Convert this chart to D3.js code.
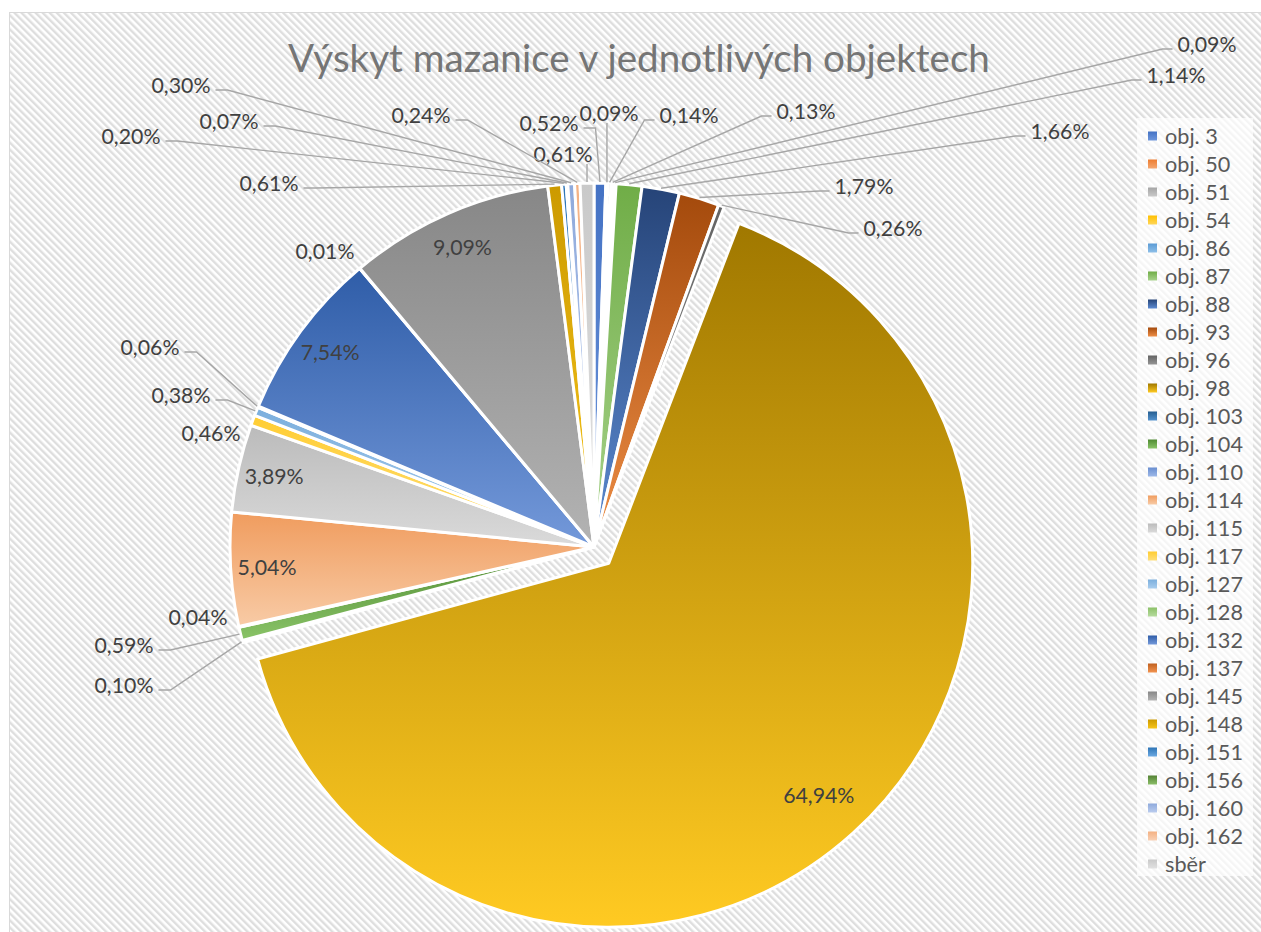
<!DOCTYPE html>
<html>
<head>
<meta charset="utf-8">
<script src="https://cdn.jsdelivr.net/npm/d3@7"></script>
<style>
  body { margin: 0; background: #fff; }
  svg { display: block; }
</style>
</head>
<body>
<svg id="chart" width="1261" height="932"></svg>
<script>
// ---- data ----
const categories = ["obj. 3","obj. 50","obj. 51","obj. 54","obj. 86","obj. 87","obj. 88","obj. 93","obj. 96",
  "obj. 98","obj. 103","obj. 104","obj. 110","obj. 114","obj. 115","obj. 117","obj. 127","obj. 128",
  "obj. 132","obj. 137","obj. 145","obj. 148","obj. 151","obj. 156","obj. 160","obj. 162","sběr"];
// share of daub (mazanice) per feature, in percent
const shares = [0.52,0.09,0.14,0.13,0.09,1.14,1.66,1.79,0.26,
  64.94,0.10,0.59,0.04,5.04,3.89,0.46,0.38,0.06,
  7.54,0.01,9.09,0.61,0.20,0.07,0.30,0.24,0.61];
const explodedCategory = "obj. 98";

// ---- style ----
const topColors = ["#4472C4","#ED7D31","#A5A5A5","#FFC000","#5B9BD5","#70AD47","#264478","#A44A0C","#636363",
  "#A07800","#255E91","#4F8A32","#698ED0","#F09C5E","#BBBBBB","#FFCD33","#7CAFDD","#8CC168",
  "#2F5DA8","#C0601F","#878787","#CC9A00","#2E75B6","#548235","#8FAADC","#F4B183","#C9C9C9"];
const bottomColors = ["#6F97DC","#F5A770","#C9C9C9","#FFD659","#8EBFE8","#A8D38C","#5D8BD2","#EE8E46","#959595",
  "#FFCA22","#5593CE","#8AC468","#9DB8E8","#F8CBA6","#DADADA","#FFDF7A","#A9CDEE","#B6DB9E",
  "#7499DA","#F2934F","#B3B3B3","#F7C51A","#6CA9E2","#8BBE68","#BACCEE","#F9D1B5","#E1E1E1"];

// label spots for data labels placed outside the pie: [x, y, leader line]; null = label inside the slice
const labelSpots = [[549,123,true],[609,113,true],[689,115,true],[806,111,true],[1207,44,true],[1176,75,true],
  [1060,131,true],[864,186,true],[893,228,true],
  null,[124,685,true],[124,645,true],[198,617,false],null,null,[211,433,false],[181,395,true],[150,347,true],
  null,[325,251,false],null,[269,183,true],[131,136,true],[229,121,true],[181,85,true],[421,115,true],[563,154,true]];

const FONT = "Lato, 'Open Sans', sans-serif";
const W = 1261, H = 932;
const cx = 594, cy = 547, R = 364, explode = 22;

const svg = d3.select("#chart");
const defs = svg.append("defs");

// fit a font size so that a sample string gets a given width
function fitSize(sample, target) {
  const t = svg.append("text").attr("font-family", FONT).attr("font-size", 100).text(sample);
  const w = t.node().getComputedTextLength();
  t.remove();
  return 100 * target / w;
}
const titleSize = fitSize("Výskyt mazanice v jednotlivých objektech", 702);
const labelSize = fitSize("0,30%", 59);
const legendSize = fitSize("obj. 114", 78);

// diagonal hatch background
const pat = defs.append("pattern").attr("id", "hatch").attr("patternUnits", "userSpaceOnUse")
  .attr("width", 5).attr("height", 5).attr("patternTransform", "rotate(-45)");
pat.append("rect").attr("width", 5).attr("height", 5).attr("fill", "#ffffff");
pat.append("rect").attr("width", 2.4).attr("height", 5).attr("fill", "#dedede");

// per-slice vertical gradients
categories.forEach((c, i) => {
  const g = defs.append("linearGradient").attr("id", "grad" + i)
    .attr("x1", 0).attr("y1", 0).attr("x2", 0).attr("y2", 1);
  g.append("stop").attr("offset", 0).attr("stop-color", topColors[i]);
  g.append("stop").attr("offset", 1).attr("stop-color", bottomColors[i]);
});

svg.append("rect").attr("x", 9.5).attr("y", 12.5).attr("width", W).attr("height", H)
  .attr("fill", "url(#hatch)").attr("stroke", "#d9d9d9").attr("stroke-width", 1);

// title
svg.append("text").attr("x", 639).attr("y", 72).attr("text-anchor", "middle")
  .attr("font-family", FONT).attr("font-size", titleSize).attr("fill", "#757575")
  .text("Výskyt mazanice v jednotlivých objektech");

// pie
const data = categories.map((name, i) => ({ name, share: shares[i], i }));
const arcs = d3.pie().sort(null).value(d => d.share)(data);
const arc = d3.arc().innerRadius(0).outerRadius(R);
const midAngle = a => (a.startAngle + a.endAngle) / 2;
function shift(a) {
  if (a.data.name !== explodedCategory) return [0, 0];
  const m = midAngle(a);
  return [explode * Math.sin(m), -explode * Math.cos(m)];
}
const polar = (ang, r) => [r * Math.sin(ang), -r * Math.cos(ang)];

const pieG = svg.append("g").attr("transform", `translate(${cx},${cy})`);
pieG.selectAll("path.slice").data(arcs).join("path")
  .attr("class", "slice")
  .attr("transform", d => `translate(${shift(d)[0]},${shift(d)[1]})`)
  .attr("d", arc)
  .attr("fill", d => `url(#grad${d.data.i})`)
  .attr("stroke", "#ffffff").attr("stroke-width", 3).attr("stroke-linejoin", "round");

const fmt = v => d3.format(".2f")(v).replace(".", ",") + "%";
const labelG = svg.append("g");
const leaderG = svg.append("g");

arcs.forEach(a => {
  const spot = labelSpots[a.data.i];
  const text = fmt(a.data.share);
  if (!spot) {
    const [sx, sy] = shift(a);
    const k = a.data.name === explodedCategory ? 0.86 : 0.9;
    const [px, py] = polar(midAngle(a), k * R);
    labelG.append("text").attr("x", cx + sx + px).attr("y", cy + sy + py + 0.36 * labelSize)
      .attr("text-anchor", "middle").attr("font-family", FONT).attr("font-size", labelSize)
      .attr("fill", "#404040").text(text);
    return;
  }
  const [lx, ly, leader] = spot;
  const t = labelG.append("text").attr("x", lx).attr("y", ly + 0.36 * labelSize)
    .attr("text-anchor", "middle").attr("font-family", FONT).attr("font-size", labelSize)
    .attr("fill", "#404040").text(text);
  if (!leader) return;
  const w = t.node().getComputedTextLength();
  const x0 = lx - w / 2, x1 = lx + w / 2;
  const [ax0, ay0] = polar(midAngle(a), R + 1);
  const ax = cx + ax0, ay = cy + ay0;
  let pts;
  if (ax >= x0 && ax <= x1) {
    pts = [[ax, ly + 10], [ax, ay]];
  } else if (ax > x1) {
    pts = [[x1 + 5, ly + 5], [x1 + 17, ly + 5], [ax, ay]];
  } else {
    pts = [[x0 - 5, ly + 5], [x0 - 15, ly + 5], [ax, ay]];
  }
  leaderG.append("polyline").attr("points", pts.map(p => p.join(",")).join(" "))
    .attr("fill", "none").attr("stroke", "#a6a6a6").attr("stroke-width", 1.4);
});

// legend
const legendY = d3.scalePoint().domain(categories).range([136, 864]);
svg.append("rect").attr("x", 1137).attr("y", 118).attr("width", 116).attr("height", 758)
  .attr("fill", "#ffffff").attr("fill-opacity", 0.7);
const legend = svg.append("g").selectAll("g").data(categories).join("g")
  .attr("transform", d => `translate(1148,${legendY(d)})`);
legend.append("rect").attr("x", 0).attr("y", -4.5).attr("width", 9).attr("height", 9)
  .attr("fill", (d, i) => `url(#grad${i})`);
legend.append("text").attr("x", 17).attr("y", 0.36 * legendSize)
  .attr("font-family", FONT).attr("font-size", legendSize).attr("fill", "#595959")
  .text(d => d);
</script>
</body>
</html>
